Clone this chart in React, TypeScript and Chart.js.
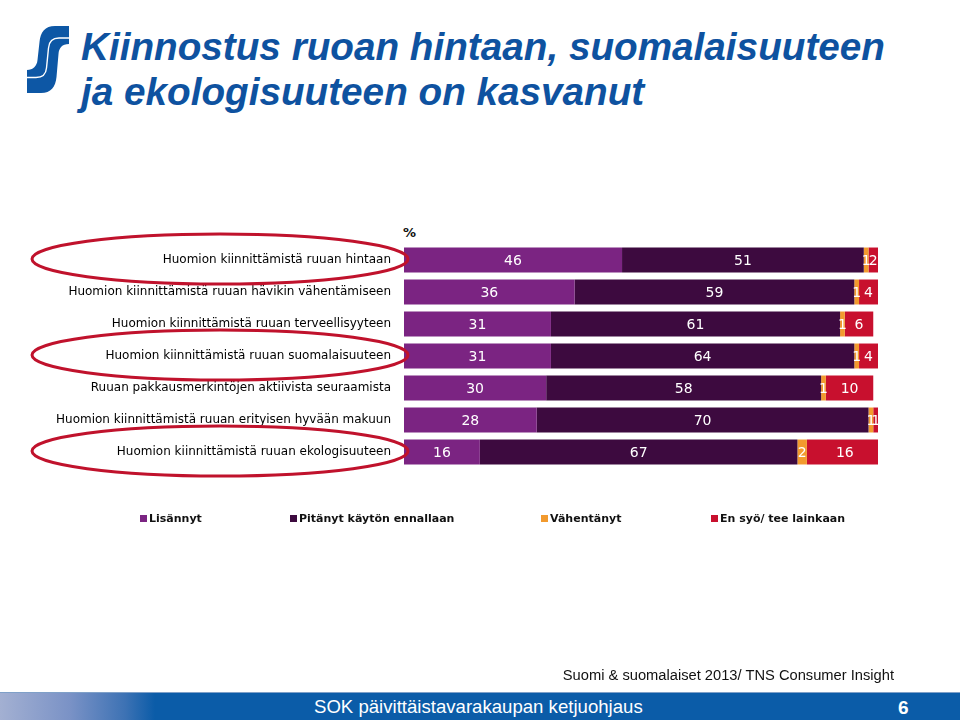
import React, { useEffect, useRef } from "react";
import { Chart, registerables } from "chart.js";

Chart.register(...registerables);

const categories = [
  "Huomion kiinnittämistä ruuan hintaan",
  "Huomion kiinnittämistä ruuan hävikin vähentämiseen",
  "Huomion kiinnittämistä ruuan terveellisyyteen",
  "Huomion kiinnittämistä ruuan suomalaisuuteen",
  "Ruuan pakkausmerkintöjen aktiivista seuraamista",
  "Huomion kiinnittämistä ruuan erityisen hyvään makuun",
  "Huomion kiinnittämistä ruuan ekologisuuteen",
];
const seriesNames = ["Lisännyt", "Pitänyt käytön ennallaan", "Vähentänyt", "En syö/ tee lainkaan"];
const lisannyt = [46, 36, 31, 31, 30, 28, 16];
const pitanyt = [51, 59, 61, 64, 58, 70, 67];
const vahentanyt = [1, 1, 1, 1, 1, 1, 2];
const enSyo = [2, 4, 6, 4, 10, 1, 16];
const highlighted = [0, 3, 6];

const colors = ["#7B2482", "#3D0A3F", "#F29A2E", "#C8102E"];
const titleLines = ["Kiinnostus ruoan hintaan, suomalaisuuteen", "ja ekologisuuteen on kasvanut"];
const sourceText = "Suomi & suomalaiset 2013/ TNS Consumer Insight";
const footerText = "SOK päivittäistavarakaupan ketjuohjaus";
const pageNumber = "6";

const legendX = [140, 290, 541, 711];

const overlayPlugin = {
  id: "overlay",
  afterDatasetsDraw(chart: any) {
    const ctx = chart.ctx;
    ctx.save();
    ctx.font = "14px 'DejaVu Sans'";
    ctx.fillStyle = "#ffffff";
    ctx.textAlign = "center";
    ctx.textBaseline = "middle";
    chart.data.datasets.forEach((ds: any, di: number) => {
      const meta = chart.getDatasetMeta(di);
      meta.data.forEach((bar: any, i: number) => {
        const v = ds.data[i];
        if (!v) return;
        const cx = (bar.base + bar.x) / 2;
        ctx.fillText(String(v), cx, bar.y + 1);
      });
    });
    const ys = chart.scales.y;
    ctx.strokeStyle = "#C0122C";
    ctx.lineWidth = 3;
    highlighted.forEach((idx) => {
      const cy = ys.getPixelForValue(idx) - 1;
      ctx.beginPath();
      ctx.ellipse(220, cy, 188, 25, 0, 0, Math.PI * 2);
      ctx.stroke();
    });
    ctx.restore();
  },
};

export default function App() {
  const ref = useRef<HTMLCanvasElement>(null);
  useEffect(() => {
    if (!ref.current) return;
    const chart = new Chart(ref.current, {
      type: "bar",
      data: {
        labels: categories,
        datasets: [lisannyt, pitanyt, vahentanyt, enSyo].map((d, i) => ({
          label: seriesNames[i],
          data: d,
          backgroundColor: colors[i],
          borderWidth: 0,
          barPercentage: 0.78,
          categoryPercentage: 1,
        })),
      },
      options: {
        indexAxis: "y",
        animation: false,
        responsive: false,
        layout: { padding: { left: 0, right: 82, top: 244, bottom: 252 } },
        plugins: { legend: { display: false }, tooltip: { enabled: false } },
        scales: {
          x: { stacked: true, min: 0, max: 100, display: false },
          y: {
            stacked: true,
            grid: { display: false, drawTicks: false },
            border: { display: false },
            ticks: {
              color: "#000000",
              font: { family: "'DejaVu Sans'", size: 12 },
              padding: 13,
            },
            afterFit(scale: any) {
              scale.width = 404;
            },
          },
        },
      },
      plugins: [overlayPlugin],
    } as any);
    return () => chart.destroy();
  }, []);

  return (
    <div style={{ position: "absolute", left: 0, top: 0, width: 960, height: 720, background: "#fff", overflow: "hidden" }}>
      <svg width={100} height={110} style={{ position: "absolute", left: 0, top: 0 }}>
        <path
          d="M 69 26 L 55 26 C 45 26 40.5 32 39.5 42 L 37.5 60 C 37 66 33 70 27 70 L 27 93 L 41 93 C 51 93 55.5 87 56.5 77 L 58.5 54 C 59 48 62 44 69 44 Z"
          fill="#0D57A5"
        />
        <path d="M 69 38 H 59 C 52 38 49 42 48.5 48 L 46.5 68 C 46 74 42 77.5 36 77.5 H 27" fill="none" stroke="#ffffff" strokeWidth={1.4} />
      </svg>
      <div style={{ position: "absolute", left: 81, top: 24, fontFamily: "'Liberation Sans', Arial", fontWeight: "bold", fontStyle: "italic", fontSize: 38.7, lineHeight: "45px", color: "#0E52A0", whiteSpace: "nowrap" }}>
        <div>{titleLines[0]}</div>
        <div>{titleLines[1]}</div>
      </div>
      <div style={{ position: "absolute", left: 403, top: 225, fontFamily: "'DejaVu Sans'", fontWeight: "bold", fontSize: 13, color: "#111" }}>%</div>
      <canvas ref={ref} width={960} height={720} style={{ position: "absolute", left: 0, top: 0 }} />
      {seriesNames.map((n, i) => (
        <div key={n} style={{ position: "absolute", left: legendX[i], top: 512, fontFamily: "'DejaVu Sans'", fontWeight: "bold", fontSize: 11, color: "#111", whiteSpace: "nowrap", display: "flex", alignItems: "center" }}>
          <span style={{ display: "inline-block", width: 7, height: 7, background: colors[i], marginRight: 2 }} />
          {n}
        </div>
      ))}
      <div style={{ position: "absolute", right: 66, top: 667, fontFamily: "'Liberation Sans', Arial", fontSize: 14.7, color: "#111", whiteSpace: "nowrap" }}>{sourceText}</div>
      <div style={{ position: "absolute", left: 0, top: 692, width: 960, height: 28, background: "linear-gradient(to right, #A3B0D2 0px, #7A92C6 70px, #3D72B4 125px, #0B5CA8 155px, #0B5CA8 100%)", borderTop: "1px solid #7FA0C8" }} />
      <div style={{ position: "absolute", left: 314, top: 696, fontFamily: "'Liberation Sans', Arial", fontSize: 18.6, color: "#fff", whiteSpace: "nowrap" }}>{footerText}</div>
      <div style={{ position: "absolute", left: 898, top: 697, fontFamily: "'Liberation Sans', Arial", fontSize: 19, fontWeight: "bold", color: "#fff" }}>{pageNumber}</div>
    </div>
  );
}
